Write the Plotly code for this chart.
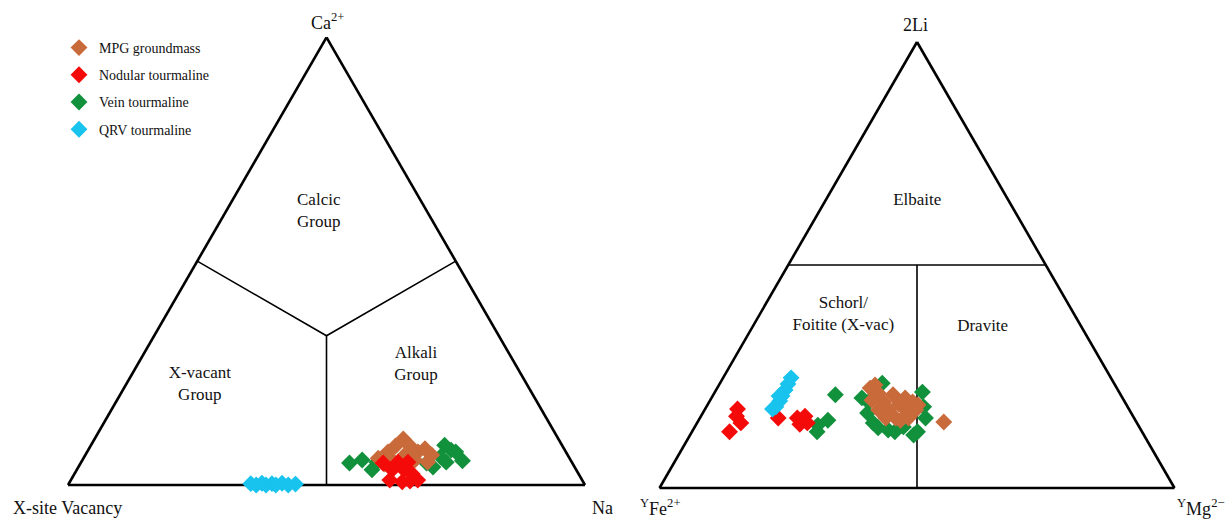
import plotly.graph_objects as go

# ---------------- series styling ----------------
series_names = ["MPG groundmass", "Nodular tourmaline", "Vein tourmaline", "QRV tourmaline"]
series_colors = ["#C96A3B", "#F50A0A", "#12913C", "#18C3EE"]

# ---------------- X-site diagram: Ca2+ / X-site vacancy / Na (fractions) ----------------
mpg_ca  = [0.060, 0.074, 0.087, 0.103, 0.087, 0.074, 0.081, 0.067, 0.056, 0.067, 0.056, 0.051, 0.047]
mpg_na  = [0.570, 0.582, 0.590, 0.597, 0.618, 0.640, 0.650, 0.670, 0.599, 0.618, 0.643, 0.670, 0.588]
mpg_vac = [0.370, 0.344, 0.323, 0.300, 0.295, 0.286, 0.269, 0.263, 0.345, 0.315, 0.301, 0.279, 0.365]

nod_ca  = [0.049, 0.034, 0.051, 0.034, 0.051, 0.025, 0.011, 0.011, 0.007, 0.009]
nod_na  = [0.585, 0.610, 0.613, 0.633, 0.632, 0.653, 0.671, 0.617, 0.643, 0.657]
nod_vac = [0.366, 0.356, 0.336, 0.333, 0.317, 0.322, 0.318, 0.372, 0.350, 0.334]

vein_ca  = [0.049, 0.056, 0.034, 0.051, 0.040, 0.049, 0.040, 0.063, 0.051, 0.089, 0.078, 0.074, 0.054]
vein_na  = [0.520, 0.541, 0.571, 0.572, 0.609, 0.669, 0.686, 0.689, 0.706, 0.684, 0.702, 0.713, 0.736]
vein_vac = [0.431, 0.403, 0.395, 0.377, 0.351, 0.282, 0.274, 0.248, 0.243, 0.227, 0.220, 0.213, 0.210]

qrv_ca  = [0.003, 0.000, 0.004, 0.000, 0.003, 0.000, 0.004, 0.000, 0.002]
qrv_na  = [0.352, 0.364, 0.373, 0.383, 0.393, 0.402, 0.412, 0.426, 0.439]
qrv_vac = [0.645, 0.636, 0.623, 0.617, 0.604, 0.598, 0.584, 0.574, 0.559]

# ---------------- Y-site diagram: 2Li / Fe2+ / Mg2+ (fractions) ----------------
mpg_li = [0.224, 0.213, 0.197, 0.193, 0.175, 0.175, 0.157, 0.175, 0.193, 0.175, 0.152, 0.157,
          0.231, 0.209, 0.188, 0.157, 0.186, 0.202, 0.148]
mpg_mg = [0.297, 0.318, 0.314, 0.339, 0.357, 0.338, 0.380, 0.391, 0.395, 0.410, 0.392, 0.361,
          0.303, 0.349, 0.371, 0.405, 0.409, 0.376, 0.478]
mpg_fe = [0.479, 0.469, 0.489, 0.468, 0.468, 0.487, 0.463, 0.434, 0.412, 0.415, 0.456, 0.482,
          0.466, 0.442, 0.441, 0.438, 0.405, 0.422, 0.374]

nod_li = [0.177, 0.161, 0.146, 0.126, 0.157, 0.157, 0.161, 0.146, 0.143]
nod_mg = [0.063, 0.069, 0.085, 0.073, 0.152, 0.189, 0.202, 0.214, 0.201]
nod_fe = [0.760, 0.770, 0.769, 0.801, 0.691, 0.654, 0.637, 0.640, 0.656]

vein_li = [0.209, 0.152, 0.141, 0.126, 0.235, 0.215, 0.182, 0.157, 0.126, 0.137, 0.130, 0.146,
           0.168, 0.193, 0.119, 0.135, 0.126, 0.202]
vein_mg = [0.237, 0.251, 0.237, 0.243, 0.315, 0.403, 0.422, 0.438, 0.438, 0.405, 0.379, 0.342,
           0.320, 0.309, 0.434, 0.357, 0.394, 0.292]
vein_fe = [0.554, 0.597, 0.622, 0.631, 0.450, 0.382, 0.396, 0.405, 0.436, 0.458, 0.491, 0.512,
           0.512, 0.498, 0.447, 0.508, 0.480, 0.506]

qrv_li = [0.247, 0.233, 0.220, 0.206, 0.195, 0.182, 0.206, 0.177]
qrv_mg = [0.132, 0.133, 0.134, 0.135, 0.136, 0.135, 0.129, 0.131]
qrv_fe = [0.621, 0.634, 0.646, 0.659, 0.669, 0.683, 0.665, 0.692]

# ---------------- field boundaries ----------------
# X-site: edge midpoints joined to the centroid
xb_seg1 = dict(a=[0.5, 1/3, 0.5], b=[0.5, 1/3, 0.0], c=[0.0, 1/3, 0.5])
xb_seg2 = dict(a=[1/3, 0.0], b=[1/3, 0.5], c=[1/3, 0.5])
# Y-site: Li = 0.5 and Fe = Mg
yb_seg1 = dict(a=[0.5, 0.5], b=[0.5, 0.0], c=[0.0, 0.5])
yb_seg2 = dict(a=[0.5, 0.0], b=[0.25, 0.5], c=[0.25, 0.5])

# field names and their positions
x_fields = ["Calcic<br>Group", "X-vacant<br>Group", "Alkali<br>Group"]
x_field_a = [0.61, 0.224, 0.268]
x_field_b = [0.21, 0.633, 0.193]
x_field_c = [0.18, 0.143, 0.539]

y_fields = ["Elbaite", "Schorl/<br>Foitite (X-vac)", "Dravite"]
y_field_a = [0.643, 0.388, 0.361]
y_field_b = [0.178, 0.449, 0.192]
y_field_c = [0.179, 0.163, 0.447]

FONT = "Liberation Serif, Times New Roman, serif"
MARKER_SIZE = 13

fig = go.Figure()

x_sets = [(mpg_ca, mpg_vac, mpg_na), (nod_ca, nod_vac, nod_na),
          (vein_ca, vein_vac, vein_na), (qrv_ca, qrv_vac, qrv_na)]
y_sets = [(mpg_li, mpg_fe, mpg_mg), (nod_li, nod_fe, nod_mg),
          (vein_li, vein_fe, vein_mg), (qrv_li, qrv_fe, qrv_mg)]

# boundaries first so the markers sit above them
for seg in (xb_seg1, xb_seg2):
    fig.add_trace(go.Scatterternary(subplot="ternary", mode="lines", showlegend=False,
                                    line=dict(color="black", width=1.6), hoverinfo="skip", **seg))
for seg in (yb_seg1, yb_seg2):
    fig.add_trace(go.Scatterternary(subplot="ternary2", mode="lines", showlegend=False,
                                    line=dict(color="black", width=1.6), hoverinfo="skip", **seg))

order = [2, 0, 1, 3]  # draw vein first, then groundmass, nodular, QRV
for i in order:
    a, b, c = x_sets[i]
    fig.add_trace(go.Scatterternary(
        subplot="ternary", a=a, b=b, c=c, mode="markers", name=series_names[i],
        legendgroup=series_names[i], legendrank=i + 1, cliponaxis=False,
        marker=dict(symbol="diamond", size=MARKER_SIZE, color=series_colors[i], line=dict(width=0))))
for i in order:
    a, b, c = y_sets[i]
    fig.add_trace(go.Scatterternary(
        subplot="ternary2", a=a, b=b, c=c, mode="markers", name=series_names[i],
        legendgroup=series_names[i], showlegend=False, cliponaxis=False,
        marker=dict(symbol="diamond", size=MARKER_SIZE, color=series_colors[i], line=dict(width=0))))

fig.add_trace(go.Scatterternary(subplot="ternary", a=x_field_a, b=x_field_b, c=x_field_c,
                                mode="text", text=x_fields, showlegend=False, hoverinfo="skip",
                                textfont=dict(family=FONT, size=17, color="#111111")))
fig.add_trace(go.Scatterternary(subplot="ternary2", a=y_field_a, b=y_field_b, c=y_field_c,
                                mode="text", text=y_fields, showlegend=False, hoverinfo="skip",
                                textfont=dict(family=FONT, size=17, color="#111111")))

axis_style = dict(showline=True, linecolor="black", linewidth=2.6, showgrid=False,
                  showticklabels=False, ticks="", title=dict(text=""), layer="below traces", min=0)

W, H = 1228, 519
fig.update_layout(
    width=W, height=H, margin=dict(l=0, r=0, t=0, b=0),
    paper_bgcolor="white", plot_bgcolor="white",
    font=dict(family=FONT, color="#111111"),
    ternary=dict(sum=1, bgcolor="white",
                 domain=dict(x=[68 / W, 585 / W], y=[34 / H, 481.7 / H]),
                 aaxis=axis_style, baxis=axis_style, caxis=axis_style),
    ternary2=dict(sum=1, bgcolor="white",
                  domain=dict(x=[659.5 / W, 1174.5 / W], y=[31 / H, 477 / H]),
                  aaxis=axis_style, baxis=axis_style, caxis=axis_style),
    legend=dict(x=59 / W, y=1 - 32 / H, xanchor="left", yanchor="top",
                bgcolor="rgba(0,0,0,0)", font=dict(family=FONT, size=14, color="#111111"),
                traceorder="grouped", tracegroupgap=6, itemclick=False),
    showlegend=True,
)

vertex_labels = [
    ("Ca<sup>2+</sup>", 327, 22),
    ("X-site Vacancy", 67, 508),
    ("Na", 602, 508),
    ("2Li", 915, 25),
    ("<sup>Y</sup>Fe<sup>2+</sup>", 660, 507),
    ("<sup>Y</sup>Mg<sup>2−</sup>", 1201, 507),
]
for txt, px, py in vertex_labels:
    fig.add_annotation(text=txt, x=px / W, y=1 - py / H, xref="paper", yref="paper",
                       showarrow=False, xanchor="center", yanchor="middle",
                       font=dict(family=FONT, size=18, color="#111111"))

fig.write_html("out.html")
